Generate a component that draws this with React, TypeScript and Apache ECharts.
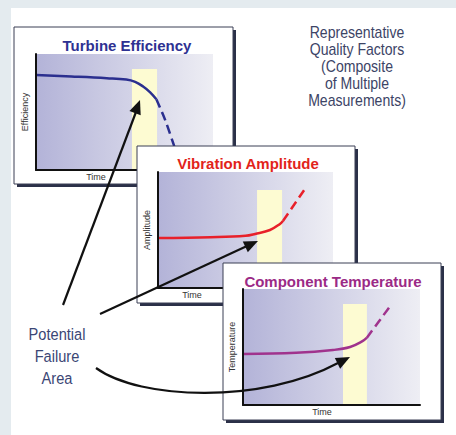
import React, { useEffect, useRef } from "react";
import * as echarts from "echarts";

// ---- data ----
const panelTitles = ["Turbine Efficiency", "Vibration Amplitude", "Component Temperature"];
const yAxisNames = ["Efficiency", "Amplitude", "Temperature"];
const xAxisName = "Time";
const sideNote = ["Representative", "Quality Factors", "(Composite", "of Multiple", "Measurements)"];
const failureLabel = ["Potential", "Failure", "Area"];

const solid1 = [[0, 8.2], [2, 8.07], [4, 7.92], [5.1, 7.8], [5.6, 7.6], [6.05, 7.2], [6.45, 6.7], [6.8, 6.1]];
const dashed1 = [[6.8, 6.1], [7.3, 4.3], [7.8, 2.1], [8.25, 0.1]];
const solid2 = [[0, 4.3], [3, 4.38], [5, 4.5], [5.55, 4.66], [6.4, 5.0], [6.95, 5.5], [7.15, 5.8]];
const dashed2 = [[7.15, 5.8], [8.4, 8.55]];
const solid3 = [[0, 4.4], [3, 4.5], [5.08, 4.74], [6.05, 5.0], [6.75, 5.5], [7.0, 5.8]];
const dashed3 = [[7.0, 5.8], [8.35, 8.6]];
// failure band: [xStart, xEnd, yTop]
const band1 = [5.42, 6.84, 8.7];
const band2 = [5.66, 7.09, 8.45];
const band3 = [5.65, 7.0, 8.7];

const solids = [solid1, solid2, solid3];
const dasheds = [dashed1, dashed2, dashed3];
const bands = [band1, band2, band3];

// ---- layout / style ----
const grids = [
  { left: 36, top: 54, width: 177, height: 116 },
  { left: 158, top: 172, width: 175, height: 116 },
  { left: 243, top: 289, width: 177, height: 116 },
];
const frames = [
  { x: 14, y: 27, w: 219, h: 157 },
  { x: 137, y: 146, w: 218, h: 157 },
  { x: 223, y: 263, w: 218, h: 157 },
];
const titlePos = [[127, 45], [248, 163], [333, 281]];
const timePos = [[96, 177], [192, 295], [322, 412]];
const titleColors = ["#2e3192", "#e2231a", "#9b2a86"];
const lineColors = ["#2b2f8f", "#e8202a", "#a0338d"];
const zBase = [10, 20, 30];
const sans = "'Liberation Sans', Arial, sans-serif";

function arrowHead(tx: number, ty: number, dx: number, dy: number, z: number) {
  const len = Math.hypot(dx, dy);
  const ux = dx / len, uy = dy / len;
  const L = 14, W = 6;
  const bx = tx - ux * L, by = ty - uy * L;
  return {
    type: "polygon",
    z,
    shape: { points: [[tx, ty], [bx - uy * W, by + ux * W], [bx + uy * W, by - ux * W]] },
    style: { fill: "#111" },
  };
}

export default function App() {
  const ref = useRef<HTMLDivElement>(null);
  useEffect(() => {
    document.body.style.margin = "0";
    const chart = echarts.init(ref.current!, null, { renderer: "svg" });

    const graphic: any[] = [
      { type: "rect", z: 0, shape: { x: 0, y: 0, width: 456, height: 435 }, style: { fill: "#e4ebef" } },
      { type: "rect", z: 1, shape: { x: 11, y: 8, width: 445, height: 427 }, style: { fill: "#ffffff" } },
    ];
    frames.forEach((f, i) => {
      const z = zBase[i];
      graphic.push({ type: "rect", z, shape: { x: f.x + 3, y: f.y + 3, width: f.w, height: f.h }, style: { fill: "#2b3048" } });
      graphic.push({ type: "rect", z: z + 0.5, shape: { x: f.x, y: f.y, width: f.w, height: f.h }, style: { fill: "#fff", stroke: "#3a3f55", lineWidth: 1 } });
      graphic.push({
        type: "text", z: z + 6, x: titlePos[i][0], y: titlePos[i][1],
        style: { text: panelTitles[i], fill: titleColors[i], font: `bold 15px ${sans}`, align: "center", verticalAlign: "middle" },
      });
      graphic.push({
        type: "text", z: z + 6, x: timePos[i][0], y: timePos[i][1],
        style: { text: xAxisName, fill: "#333", font: `9px ${sans}`, align: "center", verticalAlign: "middle" },
      });
    });
    sideNote.forEach((t, i) => {
      graphic.push({
        type: "text", z: 5, x: 357, y: 32 + i * 17, scaleX: 0.88,
        style: { text: t, fill: "#3c4466", font: `16px ${sans}`, align: "center", verticalAlign: "middle" },
      });
    });
    failureLabel.forEach((t, i) => {
      graphic.push({
        type: "text", z: 5, x: 57, y: 334 + i * 22, scaleX: 0.86,
        style: { text: t, fill: "#3b4675", font: `17px ${sans}`, align: "center", verticalAlign: "middle" },
      });
    });
    // arrows
    const az = 100;
    graphic.push({ type: "line", z: az, shape: { x1: 63, y1: 305, x2: 136, y2: 112 }, style: { stroke: "#111", lineWidth: 2.2 } });
    graphic.push(arrowHead(140, 100, 140 - 63, 100 - 305, az));
    graphic.push({ type: "line", z: az, shape: { x1: 100, y1: 314, x2: 247, y2: 246 }, style: { stroke: "#111", lineWidth: 2.2 } });
    graphic.push(arrowHead(258, 241, 258 - 100, 241 - 314, az));
    graphic.push({
      type: "bezierCurve", z: az,
      shape: { x1: 96, y1: 368, cpx1: 140, cpy1: 400, cpx2: 262, cpy2: 404, x2: 338, y2: 363 },
      style: { stroke: "#111", lineWidth: 2.2, fill: "none" },
    });
    graphic.push(arrowHead(350, 357, 1, -0.5, az));

    const gradient = () =>
      new echarts.graphic.LinearGradient(0, 0, 1, 0, [
        { offset: 0, color: "#b3b3d8" },
        { offset: 1, color: "#eeeef4" },
      ]);

    const option: any = {
      animation: false,
      graphic,
      grid: grids.map((g, i) => ({
        ...g, show: true, z: zBase[i] + 1, borderWidth: 0, backgroundColor: gradient(),
      })),
      xAxis: grids.map((_, i) => ({
        type: "value", gridIndex: i, min: 0, max: 10, z: zBase[i] + 4,
        axisLine: { show: true, onZero: false, lineStyle: { color: "#111", width: 2 } },
        axisTick: { show: false }, axisLabel: { show: false }, splitLine: { show: false },
      })),
      yAxis: grids.map((_, i) => ({
        type: "value", gridIndex: i, min: 0, max: 10, z: zBase[i] + 4,
        name: yAxisNames[i], nameLocation: "middle", nameGap: 7, nameRotate: 90,
        nameTextStyle: { fontSize: 9, color: "#333", fontFamily: sans },
        axisLine: { show: true, onZero: false, lineStyle: { color: "#111", width: 2 } },
        axisTick: { show: false }, axisLabel: { show: false }, splitLine: { show: false },
      })),
      series: [
        ...solids.map((d, i) => ({
          type: "line", xAxisIndex: i, yAxisIndex: i, data: d, smooth: 0.4, symbol: "none",
          z: zBase[i] + 3,
          lineStyle: { color: lineColors[i], width: 2.5 },
          markArea: {
            silent: true, z: zBase[i] + 2,
            itemStyle: { color: "#fdfbd2", opacity: 1 },
            data: [[{ coord: [bands[i][0], 0] }, { coord: [bands[i][1], bands[i][2]] }]],
          },
        })),
        ...dasheds.map((d, i) => ({
          type: "line", xAxisIndex: i, yAxisIndex: i, data: d, smooth: 0.3, symbol: "none",
          z: zBase[i] + 3,
          lineStyle: { color: lineColors[i], width: 2.5, type: [9, 5] },
        })),
      ],
    };
    chart.setOption(option);
    return () => chart.dispose();
  }, []);
  return <div ref={ref} style={{ width: 456, height: 435 }} />;
}
